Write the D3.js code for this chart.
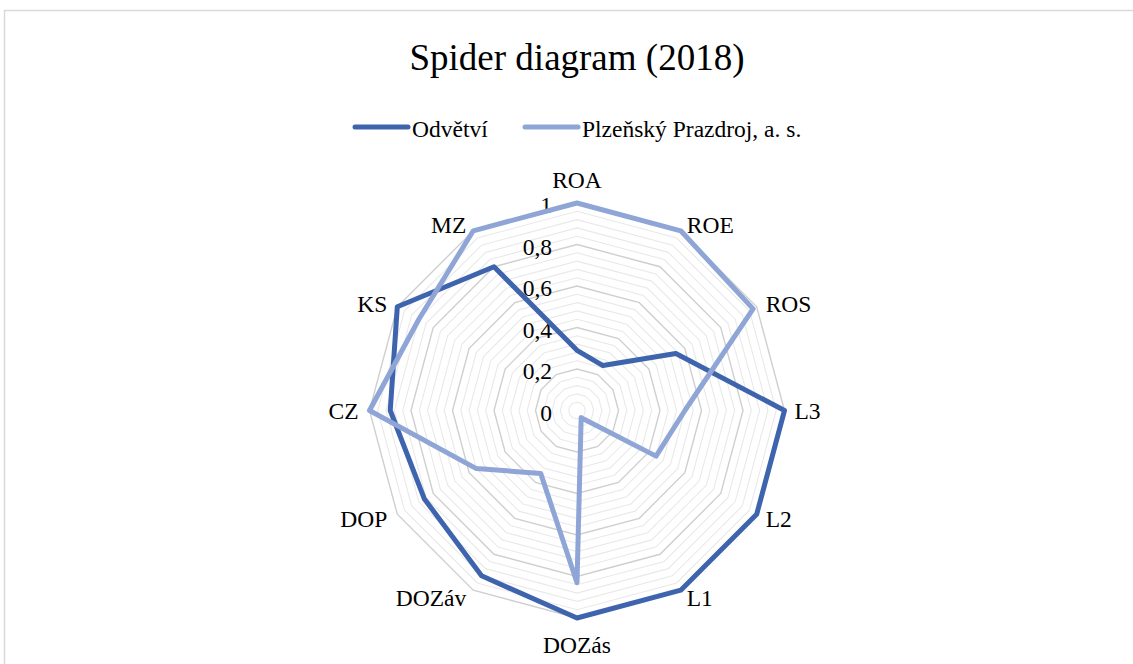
<!DOCTYPE html>
<html>
<head>
<meta charset="utf-8">
<script src="https://cdn.jsdelivr.net/npm/d3@7"></script>
<style>
  html, body { margin: 0; padding: 0; background: #fff; }
  svg { display: block; font-family: "Liberation Serif", "Times New Roman", serif; }
</style>
</head>
<body>
<svg id="chart" width="1133" height="664"></svg>
<script>
// Indicators around the web, clockwise from the top
const categories = ["ROA", "ROE", "ROS", "L3", "L2", "L1", "DOZás", "DOZáv", "DOP", "CZ", "KS", "MZ"];
const seriesNames = ["Odvětví", "Plzeňský Prazdroj, a. s."];
const odvetvi = [0.29, 0.25, 0.55, 1.0, 1.0, 1.0, 1.0, 0.92, 0.85, 0.9, 1.0, 0.8];
const prazdroj = [1.0, 1.0, 0.98, 0.52, 0.44, 0.04, 0.83, 0.35, 0.56, 1.0, 0.88, 1.0];
const tickValues = [0, 0.2, 0.4, 0.6, 0.8, 1];
const tickLabels = ["0", "0,2", "0,4", "0,6", "0,8", "1"];
const minorStep = 0.04;

const colors = ["#3F64AE", "#8EA5D6"];

const svg = d3.select("#chart");
const cx = 577, cy = 410.5, R = 207.5;

// outer chart-area frame
svg.append("rect")
  .attr("x", 4.5).attr("y", 10.5)
  .attr("width", 1140).attr("height", 700)
  .attr("fill", "none").attr("stroke", "#d9d9d9").attr("stroke-width", 1.5);

// title
svg.append("text")
  .attr("x", cx).attr("y", 70)
  .attr("text-anchor", "middle")
  .attr("font-size", 37)
  .attr("fill", "#000")
  .text("Spider diagram (2018)");

// legend
const legendItems = [
  { name: seriesNames[0], color: colors[0], x1: 355, x2: 408 },
  { name: seriesNames[1], color: colors[1], x1: 525, x2: 578 }
];
const lg = svg.append("g");
legendItems.forEach(d => {
  lg.append("line")
    .attr("x1", d.x1).attr("x2", d.x2).attr("y1", 127).attr("y2", 127)
    .attr("stroke", d.color).attr("stroke-width", 5).attr("stroke-linecap", "round");
  lg.append("text")
    .attr("x", d.x2 + 4).attr("y", 137)
    .attr("font-size", 23.5)
    .attr("fill", "#000")
    .text(d.name);
});

const r = d3.scaleLinear().domain([0, 1]).range([0, R]);
const angle = d3.scalePoint().domain(categories).range([0, 2 * Math.PI * (categories.length - 1) / categories.length]);

const g = svg.append("g").attr("transform", `translate(${cx},${cy})`);

// concentric polygon gridlines: minor every 0.04, major every 0.2
const levels = d3.range(0, 25).map(i => +((i + 1) * minorStep).toFixed(2));
const ringLine = d3.lineRadial().curve(d3.curveLinearClosed);
g.append("g").selectAll("path")
  .data(levels.slice().sort((a, b) => (isMajor(a) - isMajor(b))))
  .join("path")
  .attr("d", v => ringLine(categories.map(c => [angle(c), r(v)])))
  .attr("fill", "none")
  .attr("stroke", v => isMajor(v) ? "#cfcfcf" : "#e9e9e9")
  .attr("stroke-width", v => isMajor(v) ? 1.4 : 1.1);

function isMajor(v) { return Math.abs(v / 0.2 - Math.round(v / 0.2)) < 1e-6; }

// radial tick labels along the first axis
g.append("g").selectAll("text")
  .data(tickValues)
  .join("text")
  .attr("x", -25)
  .attr("y", (d) => -r(d) + 2)
  .attr("dy", "0.35em")
  .attr("text-anchor", "end")
  .attr("font-size", 23.5)
  .attr("fill", "#000")
  .text((d, i) => tickLabels[i]);

// category labels
g.append("g").selectAll("text")
  .data(categories)
  .join("text")
  .each(function (c) {
    const a = angle(c);
    const s = Math.sin(a), k = Math.cos(a);
    const t = d3.select(this).attr("font-size", 23.5).attr("fill", "#000").text(c);
    if (Math.abs(s) < 0.01) {
      t.attr("text-anchor", "middle").attr("x", 0);
      if (k > 0) t.attr("y", -223); // top
      else t.attr("y", 226).attr("dy", "0.72em"); // bottom
    } else {
      const rr = R + 8;
      t.attr("text-anchor", s > 0 ? "start" : "end")
        .attr("x", rr * s + (s > 0 ? 2 : -3))
        .attr("y", -rr * k)
        .attr("dy", "0.38em");
    }
  });

// series polygons
const seriesLine = d3.lineRadial().curve(d3.curveLinearClosed);
[odvetvi, prazdroj].forEach((vals, i) => {
  g.append("path")
    .attr("d", seriesLine(categories.map((c, j) => [angle(c), r(vals[j])])))
    .attr("fill", "none")
    .attr("stroke", colors[i])
    .attr("stroke-width", 5)
    .attr("stroke-linejoin", "round");
});
</script>
</body>
</html>
